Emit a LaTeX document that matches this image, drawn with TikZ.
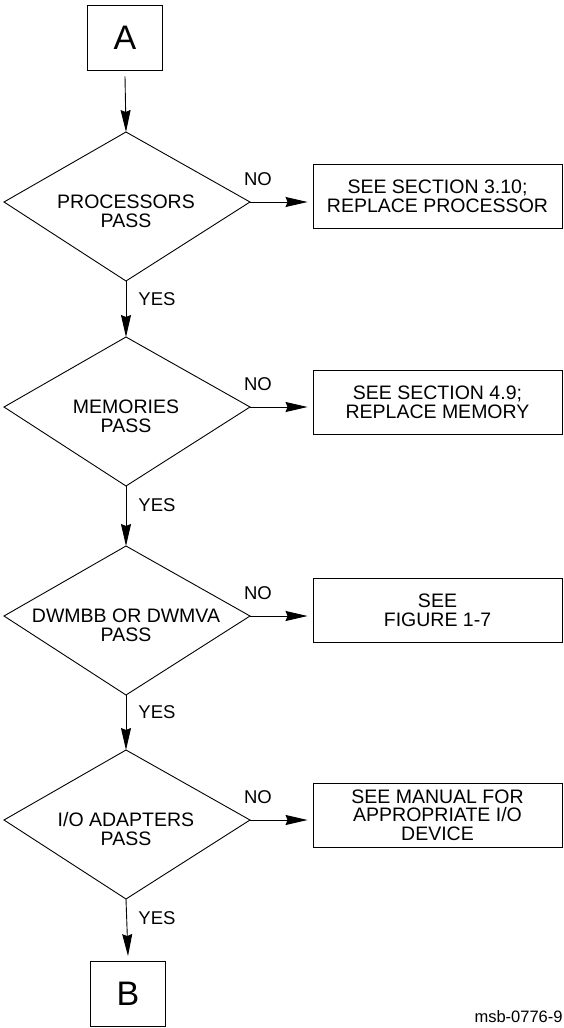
\documentclass[tikz,border=0pt]{standalone}
\usepackage{fontspec}
\setmainfont{Liberation Sans}
\usetikzlibrary{arrows.meta}
\begin{document}
\begin{tikzpicture}[x=1pt,y=-1pt,
  line width=0.9pt,
  flow/.style={-{Stealth[length=22pt,width=10pt,inset=2pt]}},
  term/.style={draw, minimum width=75pt, minimum height=65pt, inner sep=0pt,
    font=\fontsize{34}{36}\selectfont},
  decision/.style={align=center, inner sep=0pt, font=\fontsize{19.5}{19.4}\selectfont},
  action/.style={draw, align=center, minimum width=249pt, minimum height=64pt,
    inner sep=0pt, font=\fontsize{19.5}{18.6}\selectfont},
  tag/.style={inner sep=0pt, font=\fontsize{18.5}{20}\selectfont}]
\useasboundingbox (0,0) rectangle (564,1028);

% start and end connectors
\node[term] (A) at (125,37.5) {A};
\node[term] (B) at (128,994) {B};

% decision diamonds: top, right, bottom and left corners
\foreach \n/\cy in {d1/202, d2/407, d3/616, d4/820} {
  \coordinate (\n t) at (126,\cy-70);
  \coordinate (\n r) at (250,\cy);
  \coordinate (\n b) at (126,\cy+79);
  \coordinate (\n l) at (4,\cy);
  \draw (\n t) -- (\n r) -- (\n b) -- (\n l) -- cycle;
}

\node[decision] (q1) at (126,211) {PROCESSORS\\PASS};
\node[decision] (q2) at (126,416) {MEMORIES\\PASS};
\node[decision] (q3) at (126,625) {DWMBB OR DWMVA\\PASS};
\node[decision] (q4) at (126,829) {I/O ADAPTERS\\PASS};

% actions taken on failure
\node[action] (r1) at (437.5,196.5) {SEE SECTION 3.10;\\REPLACE PROCESSOR};
\node[action] (r2) at (437.5,402) {SEE SECTION 4.9;\\REPLACE MEMORY};
\node[action] (r3) at (437.5,610) {SEE\\FIGURE 1-7};
\node[action] (r4) at (437.5,815) {SEE MANUAL FOR\\APPROPRIATE I/O\\DEVICE};

% main flow
\draw[flow] ([yshift=-6pt]A.south) -- (d1t);
\draw[flow] (d1b) -- (d2t);
\draw[flow] (d2b) -- (d3t);
\draw[flow] (d3b) -- (d4t);
\draw[flow] (d4b) -- ([yshift=5pt]B.north);

% failure branches
\foreach \i in {1,2,3,4} {
  \draw[flow, shorten >=5pt] (d\i r) -- (d\i r -| r\i.west);
}

% branch labels
\node[tag] (no1) at (258,179.5) {NO};
\node[tag] (no2) at (258,384.5) {NO};
\node[tag] (no3) at (258,593.5) {NO};
\node[tag] (no4) at (258,797.5) {NO};
\node[tag] (yes1) at (157,299) {YES};
\node[tag] (yes2) at (157,505) {YES};
\node[tag] (yes3) at (157,712) {YES};
\node[tag] (yes4) at (157,918) {YES};

% figure number
\node[anchor=base east, inner sep=0pt, font=\fontsize{16.5}{18}\selectfont] (fig) at (563,1022) {msb-0776-9};
\end{tikzpicture}
\end{document}
